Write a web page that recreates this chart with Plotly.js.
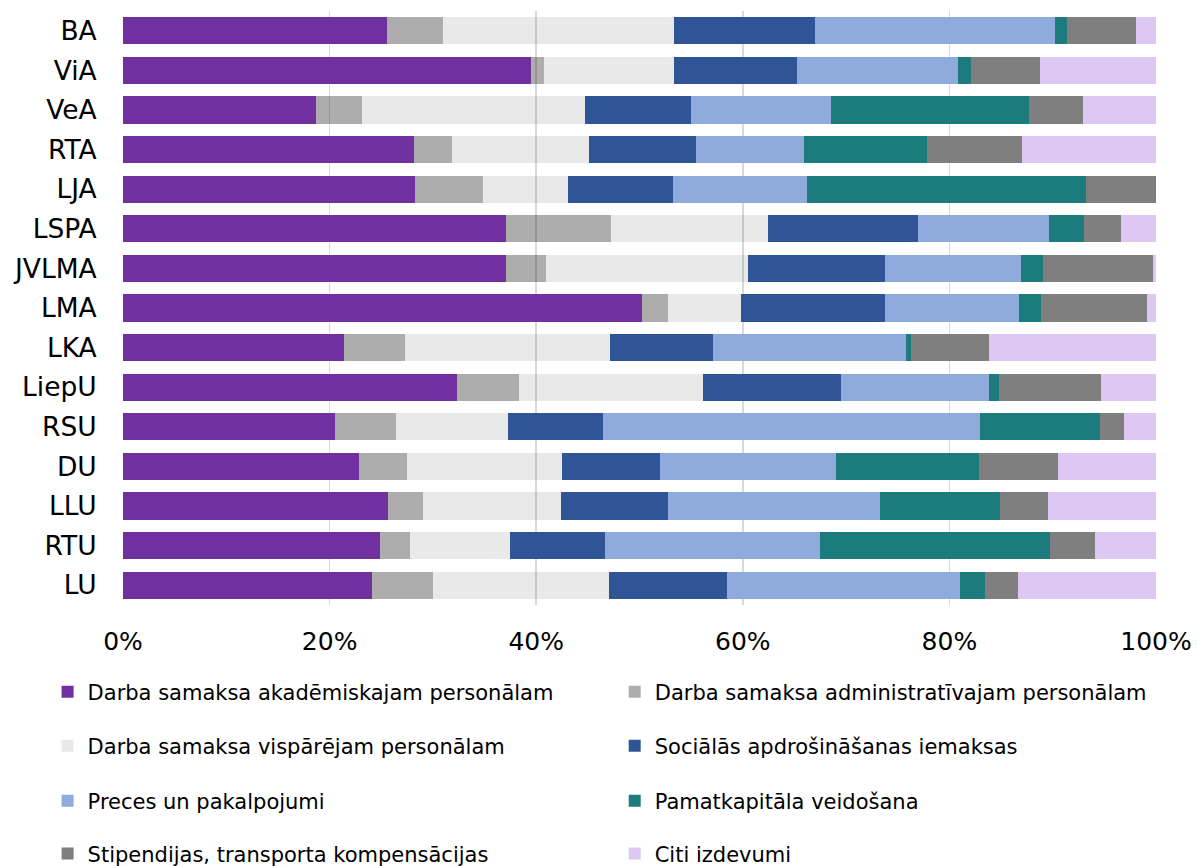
<!DOCTYPE html>
<html>
<head>
<meta charset="utf-8">
<script src="https://cdn.plot.ly/plotly-3.0.1.min.js"></script>
<style>
html,body{margin:0;padding:0;background:#fff;}
#chart{width:1197px;height:866px;}
</style>
</head>
<body>
<div id="chart"></div>
<script>
// Categories, top to bottom
const categories = ['BA','ViA','VeA','RTA','LJA','LSPA','JVLMA','LMA','LKA','LiepU','RSU','DU','LLU','RTU','LU'];

const seriesNames = [
  'Darba samaksa akadēmiskajam personālam',
  'Darba samaksa administratīvajam personālam',
  'Darba samaksa vispārējam personālam',
  'Sociālās apdrošināšanas iemaksas',
  'Preces un pakalpojumi',
  'Pamatkapitāla veidošana',
  'Stipendijas, transporta kompensācijas',
  'Citi izdevumi'
];

// Shares (%) per category
const acad    = [25.6, 39.5, 18.7, 28.1, 28.3, 37.1, 37.1, 50.2, 21.4, 32.3, 20.5, 22.9, 25.7, 24.9, 24.1];
const admin   = [ 5.4,  1.3,  4.4,  3.7,  6.6, 10.2,  3.8,  2.6,  5.9,  6.0,  5.9,  4.6,  3.4,  2.9,  5.9];
const general = [22.3, 12.5, 21.6, 13.3,  8.2, 15.2, 19.6,  7.0, 19.9, 17.8, 10.8, 15.0, 13.3,  9.7, 17.0];
const social  = [13.7, 11.9, 10.3, 10.3, 10.2, 14.5, 13.3, 14.0, 10.0, 13.4,  9.2,  9.5, 10.4,  9.2, 11.5];
const goods   = [23.2, 15.6, 13.5, 10.5, 13.0, 12.7, 13.1, 12.9, 18.7, 14.3, 36.5, 17.1, 20.6, 20.8, 22.5];
const capital = [ 1.2,  1.3, 19.2, 11.9, 27.0,  3.4,  2.2,  2.2,  0.5,  1.0, 11.6, 13.8, 11.6, 22.2,  2.4];
const stipend = [ 6.7,  6.7,  5.2,  9.1,  6.8,  3.6, 10.6, 10.2,  7.5,  9.9,  2.3,  7.7,  4.6,  4.4,  3.2];
const other   = [ 1.9, 11.2,  7.1, 13.0,  0.0,  3.4,  0.3,  0.9, 16.2,  5.3,  3.1,  9.5, 10.5,  5.9, 13.4];

const tickVals = [0, 20, 40, 60, 80, 100];
const tickText = ['0%', '20%', '40%', '60%', '80%', '100%'];

const seriesValues = [acad, admin, general, social, goods, capital, stipend, other];
const colors = ['#7030A0', 'rgba(0,0,0,0.32)', 'rgba(0,0,0,0.085)', '#2F5597', '#8FAADC', '#1B7B7D', '#7F7F7F', '#DFC7F4'];

const FONT = '"DejaVu Sans", Verdana, sans-serif';

// legend placement (paper coords): 2 columns x 4 rows
const legX = [-0.073, 0.476];
const legY = [-0.1465, -0.2374, -0.330, -0.419];

const traces = seriesValues.map((vals, i) => ({
  type: 'bar',
  orientation: 'h',
  name: seriesNames[i],
  y: categories,
  x: vals,
  marker: {color: colors[i], line: {width: 0}},
  legend: i === 0 ? 'legend' : 'legend' + (i + 1),
  hoverinfo: 'x+y+name'
}));

const layout = {
  width: 1197,
  height: 866,
  paper_bgcolor: '#ffffff',
  plot_bgcolor: '#ffffff',
  font: {family: FONT, color: '#000000'},
  barmode: 'stack',
  barnorm: 'percent',
  bargap: 0.31,
  margin: {l: 123, r: 41, t: 11, b: 261, autoexpand: false},
  xaxis: {
    range: [0, 100],
    tickvals: tickVals,
    ticktext: tickText,
    showgrid: true,
    gridcolor: '#D9D9D9',
    gridwidth: 1.5,
    zeroline: false,
    showline: false,
    ticks: 'outside',
    ticklen: 14,
    tickcolor: 'rgba(0,0,0,0)',
    tickfont: {family: FONT, size: 25, color: '#000'},
    fixedrange: true
  },
  yaxis: {
    type: 'category',
    autorange: 'reversed',
    showgrid: false,
    zeroline: false,
    showline: false,
    ticks: 'outside',
    ticklen: 20,
    tickcolor: 'rgba(0,0,0,0)',
    tickfont: {family: FONT, size: 26.5, color: '#000'},
    fixedrange: true
  },
  showlegend: true
};

for (let i = 0; i < 8; i++) {
  const key = i === 0 ? 'legend' : 'legend' + (i + 1);
  const col = i % 2, row = Math.floor(i / 2);
  layout[key] = {
    x: legX[col],
    y: legY[row],
    xanchor: 'left',
    yanchor: 'middle',
    orientation: 'h',
    bgcolor: 'rgba(0,0,0,0)',
    borderwidth: 0,
    font: {family: FONT, size: 21, color: '#000'},
    itemclick: false,
    itemdoubleclick: false
  };
}

Plotly.newPlot('chart', traces, layout, {displayModeBar: false, staticPlot: true});
</script>
</body>
</html>
